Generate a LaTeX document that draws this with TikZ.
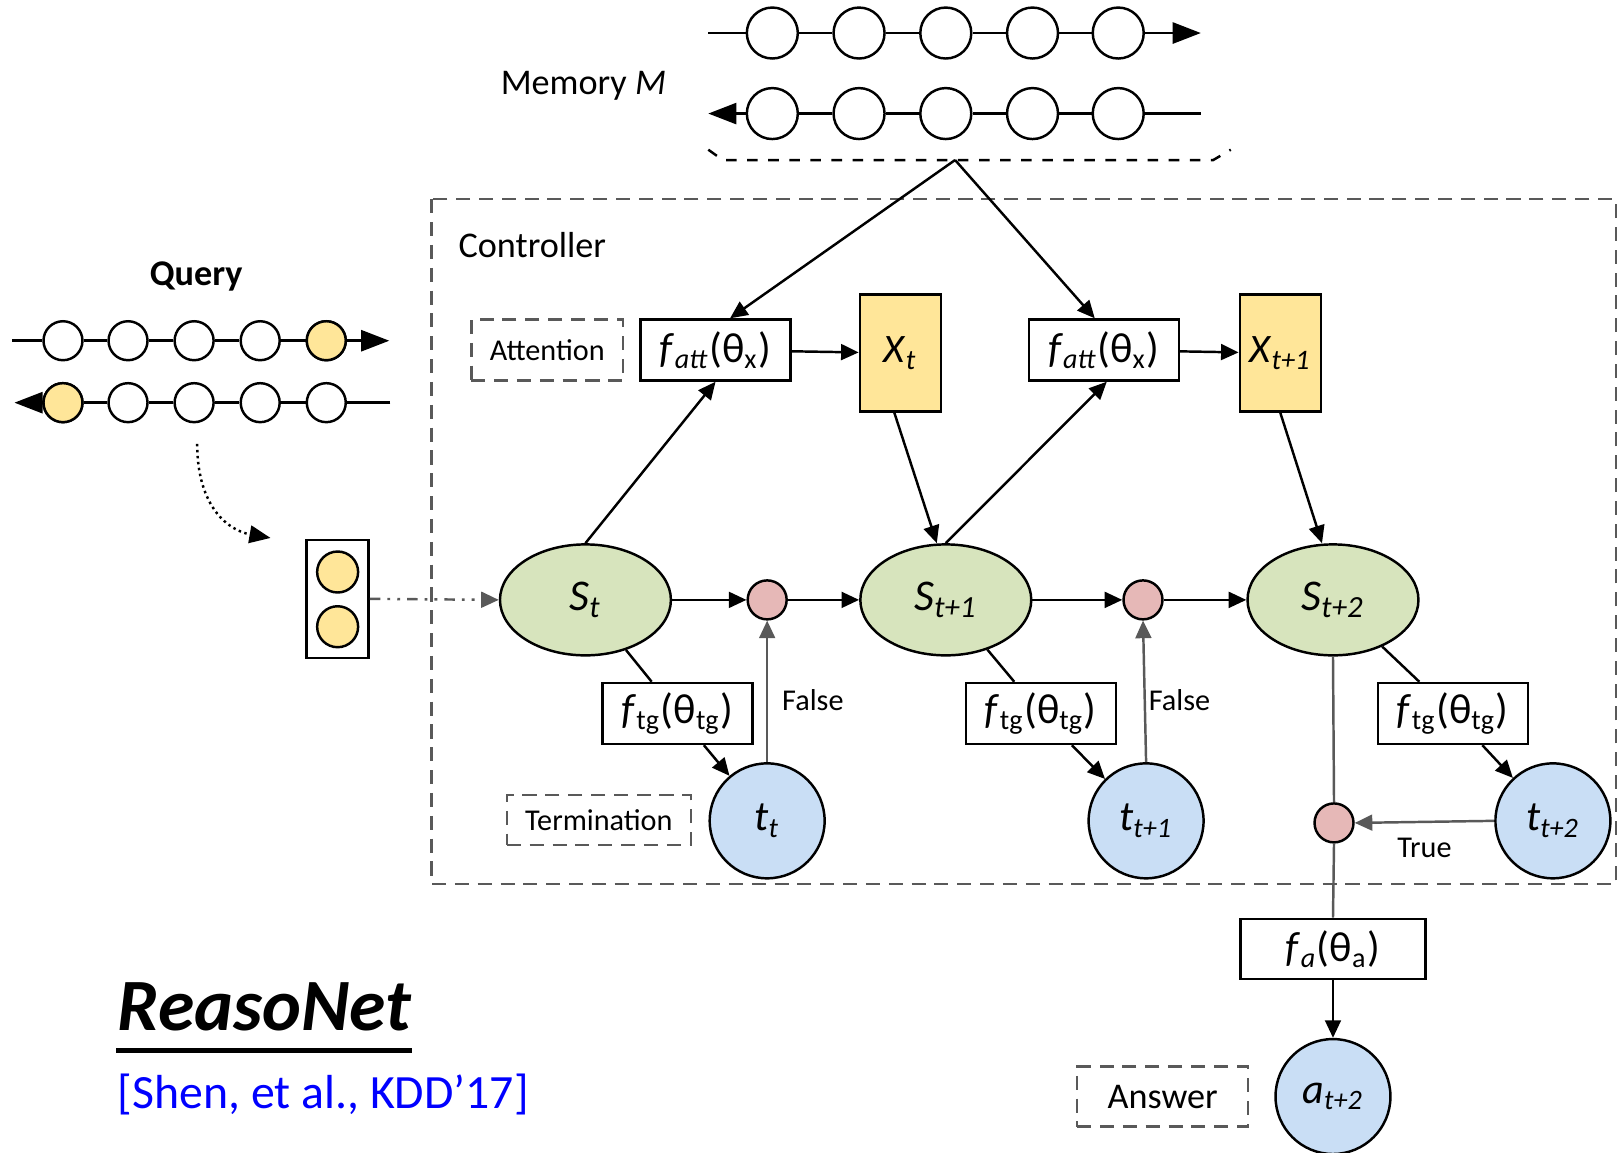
\documentclass[tikz,border=0pt]{standalone}
\usepackage{fontspec}
\setmainfont{Carlito}
\usepackage{tikz}
\usetikzlibrary{arrows.meta, positioning, shapes.geometric, calc}
\definecolor{gold}{HTML}{FFE699}
\definecolor{sage}{HTML}{D7E4BD}
\definecolor{sky}{HTML}{C9DEF5}
\definecolor{rose}{HTML}{E6B8B7}
\definecolor{dashgray}{HTML}{595959}
\definecolor{citeblue}{HTML}{0000FF}
\newcommand{\fpar}[2]{\textit{f}\textsubscript{#1}(θ\textsubscript{#2})}
\newcommand{\vlab}[2]{\textit{#1}\textsubscript{\textit{#2}}}

\begin{document}
\begin{tikzpicture}[x=0.010325cm, y=-0.010325cm, line width=0.7pt,
  tip/.style={-{Triangle[length=5pt,width=4.5pt]}},
  bigtip/.style={-{Triangle[length=8pt,width=6pt]}},
  seq/.style={draw, circle, minimum size=#1, inner sep=0pt, fill=white},
  fbox/.style={draw, fill=white, minimum width=1.50cm, minimum height=0.61cm,
               inner sep=1pt, font=\fontsize{12}{14}\selectfont},
  xbox/.style={draw, fill=gold, minimum width=0.81cm, minimum height=1.17cm,
               inner sep=1pt, font=\fontsize{11.5}{14}\selectfont},
  state/.style={draw, ellipse, fill=sage, minimum width=1.71cm,
                minimum height=1.11cm, font=\fontsize{12.5}{15}\selectfont},
  gate/.style={draw, circle, fill=rose, minimum size=0.39cm, inner sep=0pt},
  term/.style={draw, circle, fill=sky, minimum size=1.15cm, inner sep=0pt,
               font=\fontsize{12}{14}\selectfont},
  tag/.style={draw=dashgray, dash pattern=on 4pt off 2.5pt, inner sep=0pt},
  vline/.style={draw=black!65},
  small/.style={font=\fontsize{8.6}{10}\selectfont},
  label/.style={font=\fontsize{10.3}{12}\selectfont, inner sep=0pt},
]
  \useasboundingbox (0,0) rectangle (1568,1116);

  % Memory
  \foreach \x [count=\i] in {748,832,916,1000,1083} {
    \node[seq=0.51cm] (mt\i) at (\x,32) {};
    \node[seq=0.51cm] (mb\i) at (\x,110) {};
  }
  \coordinate (mtin) at (686,32);
  \coordinate (mtout) at (1163,32);
  \coordinate (mbin) at (1163,110);
  \coordinate (mbout) at (686,110);
  \draw[bigtip] (mtin) -- (mt1) -- (mt2) -- (mt3) -- (mt4) -- (mt5) -- (mtout);
  \draw[bigtip] (mbin) -- (mb5) -- (mb4) -- (mb3) -- (mb2) -- (mb1) -- (mbout);
  \draw[dashed] (686,145) -- (700,155) -- (1175,155) -- (1192,145);
  \coordinate (mpeak) at (925,155);
  \node[label] (memlbl) at (565,83) {Memory \textit{M}};

  % Query
  \node[label, font=\fontsize{10.3}{12}\selectfont\bfseries] (qlbl) at (190,268) {Query};
  \foreach \x [count=\i] in {61,124,188,252,316} {
    \node[seq=0.39cm] (qt\i) at (\x,330) {};
    \node[seq=0.39cm] (qb\i) at (\x,390) {};
  }
  \node[seq=0.39cm, fill=gold] at (qt5) {};
  \node[seq=0.39cm, fill=gold] at (qb1) {};
  \coordinate (qtin) at (12,330);
  \coordinate (qtout) at (377,330);
  \coordinate (qbin) at (378,390);
  \coordinate (qbout) at (14,390);
  \draw[bigtip] (qtin) -- (qt1) -- (qt2) -- (qt3) -- (qt4) -- (qt5) -- (qtout);
  \draw[bigtip] (qbin) -- (qb5) -- (qb4) -- (qb3) -- (qb2) -- (qb1) -- (qbout);
  \coordinate (qarcA) at (191,430);
  \coordinate (qarcB) at (262,521);
  \draw[densely dotted, -{Triangle[length=6pt,width=5pt]}]
    (qarcA) .. controls (191,492) and (222,514) .. (qarcB);
  \node[draw, minimum width=0.62cm, minimum height=1.18cm] (qbox) at (327,580) {};
  \node[seq=0.41cm, fill=gold] (qc1) at (327,554) {};
  \node[seq=0.41cm, fill=gold] (qc2) at (327,607) {};

  % Controller
  \draw[dashgray, dash pattern=on 4pt off 2.5pt] (418,193) rectangle (1565,856);
  \node[label, anchor=west] (ctrllbl) at (443,237) {Controller};

  \node[tag, small, minimum width=1.52cm, minimum height=0.61cm] (attn) at (530,339) {Attention};
  \node[fbox] (fatt1) at (693,339) {\fpar{\textit{att}}{x}};
  \node[xbox] (x1) at (872,342) {\vlab{X}{t}};
  \node[fbox] (fatt2) at (1069,339) {\fpar{\textit{att}}{x}};
  \node[xbox] (x2) at (1240,342) {\vlab{X}{t+1}};

  \node[state] (s1) at (567,581) {\vlab{S}{t}};
  \node[gate] (g1) at (743,581) {};
  \node[state] (s2) at (916,581) {\vlab{S}{t+1}};
  \node[gate] (g2) at (1107,581) {};
  \node[state] (s3) at (1291,581) {\vlab{S}{t+2}};

  \node[fbox] (ftg1) at (656,691) {\fpar{tg}{tg}};
  \node[fbox] (ftg2) at (1008,691) {\fpar{tg}{tg}};
  \node[fbox] (ftg3) at (1407,691) {\fpar{tg}{tg}};

  \node[term] (t1) at (743,795) {\vlab{t}{t}};
  \node[term] (t2) at (1110,795) {\vlab{t}{t+1}};
  \node[term] (t3) at (1504,795) {\vlab{t}{t+2}};
  \node[gate] (g3) at (1292,797) {};
  \node[tag, small, minimum width=1.84cm, minimum height=0.50cm] (termlbl) at (580,794) {Termination};

  % Answer
  \node[fbox, minimum width=1.85cm, minimum height=0.60cm] (fa) at (1291,919) {\fpar{\textit{a}}{a}};
  \node[term] (ans) at (1291,1062) {\vlab{a}{t+2}};
  \node[tag, label, minimum width=1.71cm, minimum height=0.60cm] (anslbl) at (1126,1062) {Answer};

  % connectors
  \draw[tip] (mpeak) -- ([xshift=0.145cm]fatt1.north);
  \draw[tip] (mpeak) -- ([xshift=-0.09cm]fatt2.north);
  \draw[tip] (fatt1) -- (x1);
  \draw[tip] (fatt2) -- (x2);
  \draw[tip] (s1.north) -- (fatt1.south);
  \draw[tip] ([xshift=-0.06cm]x1.south) -- ([xshift=-0.09cm]s2.north);
  \draw[tip] (s2.north) -- ([xshift=0.03cm]fatt2.south);
  \draw[tip] (x2.south) -- ([xshift=-0.11cm]s3.north);
  \draw[tip, dashgray, dash pattern=on 3pt off 2pt on 0.8pt off 2pt on 0.8pt off 2pt]
    (qbox.east) -- (s1.west);
  \draw[tip] (s1) -- (g1);
  \draw[tip] (g1) -- (s2);
  \draw[tip] (s2) -- (g2);
  \draw[tip] (g2) -- (s3);
  \draw (s1) -- (ftg1);
  \draw (s2) -- (ftg2);
  \draw (s3) -- (ftg3);
  \draw[tip] (ftg1) -- (t1);
  \draw[tip] (ftg2) -- (t2);
  \draw[tip] (ftg3) -- (t3);
  \draw[tip, vline] (t1.north) -- node[pos=0.44, right=0.6pt, small, text=black] {False} (g1.south);
  \draw[tip, vline] (t2.north) -- node[pos=0.44, right=-2.5pt, small, text=black] {False} (g2.south);
  \draw[tip, vline] (t3.west) -- node[midway, below=1pt, small, text=black] {True} (g3.east);
  \draw[vline] (s3.south) -- (g3.north);
  \draw[vline] (g3.south) -- (fa.north);
  \draw[tip] (fa.south) -- (ans.north);

  % Title
  \node[anchor=base, inner sep=0pt, font=\fontsize{21}{25}\selectfont\bfseries\itshape]
    (title) at (256,998) {ReasoNet};
  \draw[line width=1.3pt] ([yshift=-0.2cm]title.base west) -- ([yshift=-0.2cm]title.base east);
  \node[anchor=base west, inner sep=0pt, text=citeblue, font=\fontsize{13.6}{16}\selectfont]
    (cite) at (113,1074) {[Shen, et al., KDD’17]};
\end{tikzpicture}
\end{document}
